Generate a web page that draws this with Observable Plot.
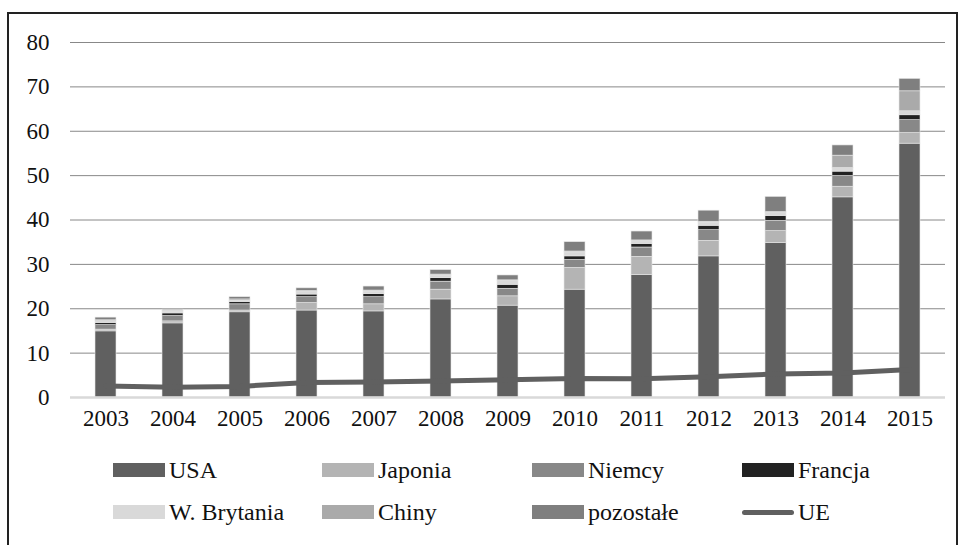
<!DOCTYPE html>
<html>
<head>
<meta charset="utf-8">
<script src="https://cdn.jsdelivr.net/npm/d3@7"></script>
<script src="https://cdn.jsdelivr.net/npm/@observablehq/plot@0.6"></script>
<style>
  html, body { margin: 0; padding: 0; background: #fff; }
  body { position: relative; width: 962px; height: 545px; overflow: hidden; font-family: "Liberation Serif", "Times New Roman", serif; }
  #frame { position: absolute; left: 7px; top: 12px; width: 951px; height: 620px; border-top: 2px solid #222; border-left: 2px solid #222; border-right: 2px solid #222; box-sizing: border-box; }
  #chart { position: absolute; left: 0; top: 0; }
  .leg { position: absolute; display: flex; align-items: center; font-size: 24px; color: #111; height: 14px; white-space: nowrap; }
  .sw { width: 52px; height: 14px; margin-right: 4px; }
  .ln { width: 52px; height: 5px; border-radius: 3px; margin-right: 4px; }
</style>
</head>
<body>
<div id="frame"></div>
<div id="chart"></div>
<script>
const years = ["2003","2004","2005","2006","2007","2008","2009","2010","2011","2012","2013","2014","2015"];
const seriesNames = ["USA","Japonia","Niemcy","Francja","W. Brytania","Chiny","pozostałe"];
const seriesColors = ["#606060","#b4b4b4","#888888","#222222","#d9d9d9","#aaaaaa","#7f7f7f"];
const USA        = [14.9,16.7,19.2,19.6,19.4,22.1,20.7,24.3,27.6,31.8,34.8,45.1,57.2];
const Japonia    = [0.4,0.45,0.4,1.7,1.6,2.2,2.1,4.9,4.1,3.5,2.7,2.4,2.4];
const Niemcy     = [1.0,1.2,1.4,1.3,1.6,1.8,1.7,1.8,2.1,2.4,2.3,2.4,2.9];
const Francja    = [0.5,0.6,0.5,0.6,0.7,0.8,0.9,0.8,0.8,1.0,1.1,1.0,1.1];
const WBrytania  = [0.4,0.45,0.3,0.6,0.6,0.6,0.8,0.9,0.6,0.7,0.7,0.8,0.9];
const Chiny      = [0.2,0.2,0.3,0.2,0.2,0.2,0.2,0.2,0.2,0.2,0.2,2.8,4.5];
const pozostale  = [0.6,0.2,0.5,0.6,0.9,1.0,1.1,2.1,2.0,2.5,3.4,2.3,2.8];
const UE         = [2.6,2.3,2.5,3.4,3.5,3.7,4.0,4.3,4.2,4.7,5.3,5.5,6.3];
const yTicks = [0,10,20,30,40,50,60,70,80];

const seriesValues = [USA, Japonia, Niemcy, Francja, WBrytania, Chiny, pozostale];
const barData = [];
seriesNames.forEach((s, si) => {
  years.forEach((y, i) => barData.push({year: y, series: s, value: seriesValues[si][i]}));
});
const ueData = years.map((y, i) => ({year: y, value: UE[i]}));

const chart = Plot.plot({
  width: 962,
  height: 445,
  marginTop: 42,
  marginBottom: 48,
  marginLeft: 70,
  marginRight: 17,
  style: {fontFamily: "'Liberation Serif', 'Times New Roman', serif", fontSize: "23px", color: "#111", background: "transparent"},
  x: {domain: years, paddingInner: 0.69, paddingOuter: 0.345, label: null, tickSize: 0, tickPadding: 12},
  y: {domain: [0, 80], ticks: yTicks, label: null, tickSize: 0, tickPadding: 21},
  color: {domain: seriesNames, range: seriesColors},
  marks: [
    Plot.ruleY(yTicks.filter(d => d > 0), {stroke: "#888", strokeWidth: 1}),
    Plot.barY(barData, {x: "year", y: "value", fill: "series", z: "series", order: seriesNames, stroke: "#e6e6e6", strokeWidth: 0.6}),
    Plot.ruleY([0], {stroke: "#d9d9d9", strokeWidth: 2.5}),
    Plot.lineY(ueData, {x: "year", y: "value", stroke: "#606060", strokeWidth: 5, strokeLinecap: "round"})
  ]
});
document.getElementById("chart").appendChild(chart);

// legend
const legendItems = [
  {name: "USA", color: "#606060", type: "sw"},
  {name: "Japonia", color: "#b4b4b4", type: "sw"},
  {name: "Niemcy", color: "#888888", type: "sw"},
  {name: "Francja", color: "#222222", type: "sw"},
  {name: "W. Brytania", color: "#d9d9d9", type: "sw"},
  {name: "Chiny", color: "#aaaaaa", type: "sw"},
  {name: "pozostałe", color: "#7f7f7f", type: "sw"},
  {name: "UE", color: "#606060", type: "ln"}
];
const colX = [113, 322, 532, 742];
const rowY = [463, 505];
legendItems.forEach((it, i) => {
  const d = document.createElement("div");
  d.className = "leg";
  d.style.left = colX[i % 4] + "px";
  d.style.top = rowY[Math.floor(i / 4)] + "px";
  const s = document.createElement("span");
  s.className = it.type;
  s.style.background = it.color;
  d.appendChild(s);
  const t = document.createElement("span");
  t.textContent = it.name;
  d.appendChild(t);
  document.body.appendChild(d);
});
</script>
</body>
</html>
